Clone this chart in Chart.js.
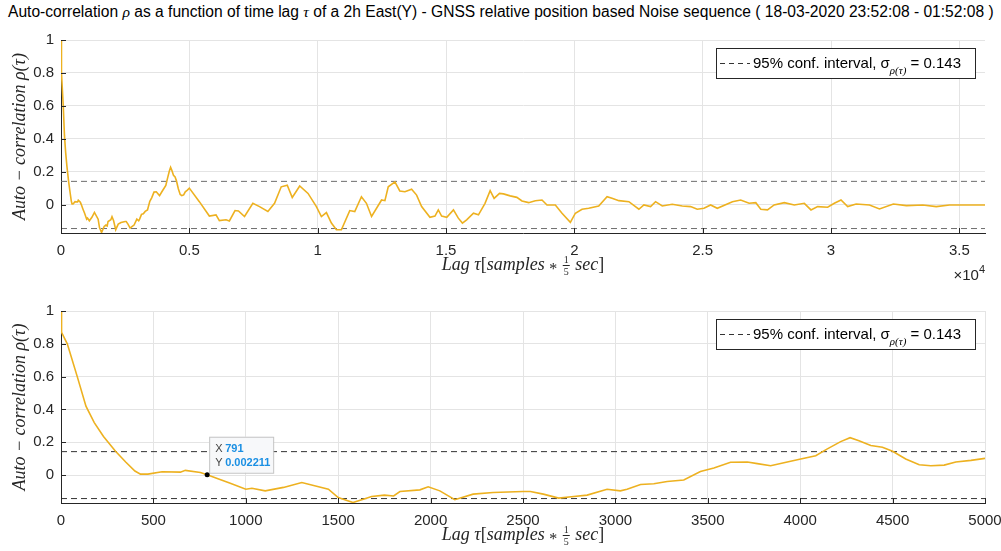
<!DOCTYPE html>
<html>
<head>
<meta charset="utf-8">
<script src="https://cdn.jsdelivr.net/npm/chart.js@4.4.1/dist/chart.umd.min.js"></script>
<style>
  body { margin: 0; background: #fff; width: 1001px; height: 551px; overflow: hidden; position: relative; font-family: 'Liberation Sans', Arial, sans-serif; }
  #title { position: absolute; left: 8px; top: 3px; font-size: 15.6px; color: #000; white-space: nowrap; }
  #title i { font-family: 'Liberation Serif', serif; }
  .box { position: absolute; left: 0; width: 1001px; }
  #topBox { top: 25px; height: 265px; }
  #botBox { top: 290px; height: 261px; }
</style>
</head>
<body>
<div id="title">Auto-correlation <i>ρ</i> as a function of time lag <i>τ</i> of a 2h East(Y) - GNSS relative position based Noise sequence ( 18-03-2020 23:52:08 - 01:52:08 )</div>
<div class="box" id="topBox"><canvas id="topChart" width="1001" height="265"></canvas></div>
<div class="box" id="botBox"><canvas id="botChart" width="1001" height="261"></canvas></div>
<script>
// lags 0..5000 (samples)
const shortLag = [0, 3, 34, 88, 135, 180, 230, 295, 350, 400, 430, 470, 547, 646, 673, 754, 791, 853, 916, 1000, 1033, 1105, 1204, 1303, 1447, 1500, 1580, 1636, 1681, 1750, 1800, 1834, 1942, 1987, 2050, 2131, 2230, 2338, 2500, 2540, 2610, 2693, 2775, 2847, 2955, 3027, 3063, 3136, 3208, 3280, 3370, 3460, 3533, 3623, 3714, 3768, 3840, 3930, 4003, 4084, 4147, 4219, 4270, 4318, 4382, 4445, 4500, 4571, 4644, 4707, 4779, 4842, 4924, 5000];
const shortAcf = [1.0, 0.87, 0.8, 0.6, 0.42, 0.32, 0.235, 0.145, 0.08, 0.025, 0.006, 0.006, 0.02, 0.018, 0.029, 0.016, 0.0022, -0.024, -0.049, -0.086, -0.08, -0.096, -0.075, -0.045, -0.086, -0.137, -0.167, -0.147, -0.13, -0.122, -0.127, -0.1, -0.09, -0.071, -0.096, -0.15, -0.116, -0.106, -0.1, -0.1, -0.116, -0.14, -0.13, -0.122, -0.086, -0.096, -0.086, -0.057, -0.053, -0.039, -0.03, 0.022, 0.043, 0.078, 0.08, 0.07, 0.057, 0.08, 0.098, 0.118, 0.16, 0.204, 0.228, 0.21, 0.18, 0.17, 0.145, 0.098, 0.063, 0.057, 0.061, 0.08, 0.09, 0.102];

// lags beyond 5000
const longLag = [5390, 5780, 6040, 6170, 6430, 6560, 6780, 6915, 7150, 7475, 7735, 8060, 8320, 8580, 8815, 9010, 9300, 9625, 9950, 10145, 10340, 10535, 10730, 10925, 11250, 11445, 11705, 11900, 12100, 12490, 12620, 12750, 13010, 13200, 13400, 13660, 13855, 14050, 14375, 14570, 14700, 14830, 15030, 15290, 15480, 15640, 15805, 16070, 16265, 16520, 16720, 16875, 17085, 17240, 17500, 17760, 17960, 18220, 18480, 18740, 18935, 19260, 19520, 19845, 20040, 20300, 20560, 20950, 21275, 21470, 21735, 22125, 22515, 22710, 22970, 23165, 23425, 23815, 24205, 24530, 24790, 25050, 25310, 25570, 26160, 26480, 26810, 27070, 27265, 27525, 27785, 28180, 28570, 28960, 29220, 29480, 29870, 30130, 30390, 30650, 30980, 31500, 31890, 32430, 32940, 33580, 34100, 34620, 35140, 36000];
const longAcf = [0.02, -0.067, -0.06, -0.095, -0.09, -0.097, -0.034, -0.036, -0.07, 0.01, -0.01, -0.04, 0.01, 0.11, 0.12, 0.045, 0.115, 0.07, -0.01, -0.07, -0.046, -0.11, -0.15, -0.15, -0.034, -0.04, 0.05, 0.01, -0.07, 0.03, 0.026, 0.11, 0.14, 0.085, 0.08, 0.095, 0.06, -0.01, -0.075, -0.067, -0.03, -0.067, -0.075, -0.03, -0.08, -0.11, -0.09, -0.05, -0.06, 0.01, 0.087, 0.04, 0.07, 0.067, 0.055, 0.046, 0.024, 0.014, 0.026, 0.03, 0, 0, -0.05, -0.105, -0.05, -0.026, -0.02, -0.006, 0.05, 0.04, 0.026, 0.02, -0.026, 0, -0.01, 0.02, -0.006, 0.004, -0.006, -0.01, -0.026, -0.02, 0, -0.02, 0.02, 0.03, 0.01, 0.014, -0.026, -0.03, 0, 0.014, 0, 0.01, -0.03, -0.01, -0.014, 0.01, 0.03, -0.01, 0.006, 0, -0.024, 0.006, -0.004, 0, -0.01, 0, 0, 0];

const confLevel = 0.143;
const yTicks = [0, 0.2, 0.4, 0.6, 0.8, 1];
const xTicksTop = [0, 5000, 10000, 15000, 20000, 25000, 30000, 35000];
const xTickLabelsTop = ['0', '0.5', '1', '1.5', '2', '2.5', '3', '3.5'];
const xTicksBot = [0, 500, 1000, 1500, 2000, 2500, 3000, 3500, 4000, 4500, 5000];
const tipX = 791;
const tipY = 0.002211;

const yellow = '#EDB120';
const axisCol = '#262626';
const gridCol = '#e4e4e4';

// all the MATLAB-ish decorations chart.js can't do by itself
const extras = {
  id: 'extras',
  afterDraw(chart, args, opts) {
    const ctx = chart.ctx;
    const a = chart.chartArea;
    const xs = chart.scales.x, ys = chart.scales.y;
    ctx.save();

    // inward tick marks
    ctx.strokeStyle = axisCol;
    ctx.lineWidth = 1;
    ctx.beginPath();
    xs.ticks.forEach(t => {
      const px = Math.round(xs.getPixelForValue(t.value)) + 0.5;
      ctx.moveTo(px, a.bottom); ctx.lineTo(px, a.bottom - 5);
    });
    ys.ticks.forEach(t => {
      const py = Math.round(ys.getPixelForValue(t.value)) + 0.5;
      ctx.moveTo(a.left, py); ctx.lineTo(a.left + 5, py);
    });
    ctx.stroke();

    // legend box
    const bw = 259, bh = 30;
    const bx = a.right - 10 - bw, by = a.top + opts.legendTop;
    ctx.fillStyle = '#fff';
    ctx.fillRect(bx, by, bw, bh);
    ctx.strokeStyle = axisCol;
    ctx.strokeRect(bx + 0.5, by + 0.5, bw, bh);
    const my = by + bh / 2;
    ctx.setLineDash([5, 4]);
    ctx.strokeStyle = '#333';
    ctx.beginPath();
    ctx.moveTo(bx + 4, my + 0.5); ctx.lineTo(bx + 34, my + 0.5);
    ctx.stroke();
    ctx.setLineDash([]);
    ctx.fillStyle = '#000';
    ctx.textBaseline = 'alphabetic';
    ctx.textAlign = 'left';
    let tx = bx + 37;
    ctx.font = '15px "Liberation Sans", Arial';
    let s = '95% conf. interval, σ';
    ctx.fillText(s, tx, my + 5);
    tx += ctx.measureText(s).width;
    ctx.font = 'italic 11px "Liberation Serif", serif';
    s = 'ρ(τ)';
    ctx.fillText(s, tx, my + 11);
    tx += ctx.measureText(s).width;
    ctx.font = '15px "Liberation Sans", Arial';
    ctx.fillText(' = ' + confLevel, tx, my + 5);

    // x axis label with the 1/5 fraction
    const it = 'italic 18px "Liberation Serif", serif';
    const up = '18px "Liberation Serif", serif';
    const parts = [[it, 'Lag τ'], [up, '['], [it, 'samples '], ['ast', '*'], [it, ' '], ['frac', ''], [it, ' sec'], [up, ']']];
    const fracW = 9;
    const astFont = '16px "Liberation Serif", serif';
    let total = 0;
    parts.forEach(p => {
      if (p[0] === 'frac') { total += fracW; return; }
      ctx.font = p[0] === 'ast' ? astFont : p[0];
      total += ctx.measureText(p[1]).width;
    });
    let lx = (a.left + a.right) / 2 - total / 2;
    const ly = a.bottom + 37;
    ctx.fillStyle = axisCol;
    parts.forEach(p => {
      if (p[0] === 'frac') {
        ctx.font = '10px "Liberation Serif", serif';
        ctx.textAlign = 'center';
        ctx.fillText('1', lx + fracW / 2, ly - 7);
        ctx.fillText('5', lx + fracW / 2, ly + 5);
        ctx.fillRect(lx + 1, ly - 5, fracW - 2, 1);
        ctx.textAlign = 'left';
        lx += fracW;
        return;
      }
      if (p[0] === 'ast') {
        ctx.font = astFont;
        ctx.fillText(p[1], lx, ly + 4);
        lx += ctx.measureText(p[1]).width;
        return;
      }
      ctx.font = p[0];
      ctx.fillText(p[1], lx, ly);
      lx += ctx.measureText(p[1]).width;
    });

    // x10^4 exponent
    if (opts.exponent) {
      ctx.font = '11px "Liberation Sans", Arial';
      const ew = ctx.measureText('4').width;
      ctx.fillText('4', a.right - ew, a.bottom + 40);
      ctx.font = '15px "Liberation Sans", Arial';
      const bw2 = ctx.measureText('×10').width;
      ctx.fillText('×10', a.right - ew - bw2, a.bottom + 47);
    }

    // data tip
    if (opts.tip) {
      const px = xs.getPixelForValue(tipX), py = ys.getPixelForValue(tipY);
      const tb = { x: px + 2, y: py - 38, w: 64, h: 36 };
      ctx.fillStyle = '#f7f8fa';
      ctx.fillRect(tb.x, tb.y, tb.w, tb.h);
      ctx.strokeStyle = '#c4c4c4';
      ctx.strokeRect(tb.x + 0.5, tb.y + 0.5, tb.w, tb.h);
      ctx.fillStyle = '#000';
      ctx.beginPath();
      ctx.arc(px, py, 2.5, 0, Math.PI * 2);
      ctx.fill();
      ctx.font = '11px "Liberation Sans", Arial';
      ctx.fillStyle = '#444';
      ctx.fillText('X', tb.x + 6, tb.y + 15);
      ctx.fillText('Y', tb.x + 6, tb.y + 29);
      ctx.font = 'bold 11px "Liberation Sans", Arial';
      ctx.fillStyle = '#1a8fe3';
      ctx.fillText(String(tipX), tb.x + 16, tb.y + 15);
      ctx.fillText(String(tipY), tb.x + 16, tb.y + 29);
    }
    ctx.restore();
  }
};

function makeChart(id, lag, acf, xMax, xTicks, xLabels, cfg) {
  const series = lag.map((x, i) => ({ x: x, y: acf[i] }));
  const conf = v => [{ x: 0, y: v }, { x: xMax, y: v }];
  return new Chart(document.getElementById(id), {
    type: 'line',
    data: {
      datasets: [
        { data: series, borderColor: yellow, borderWidth: 1.6, pointRadius: 0, tension: 0 },
        { data: conf(confLevel), borderColor: cfg.dashCol, borderWidth: 1, borderDash: [6, 4], pointRadius: 0 },
        { data: conf(-confLevel), borderColor: cfg.dashCol, borderWidth: 1, borderDash: [6, 4], pointRadius: 0 }
      ]
    },
    options: {
      responsive: false,
      animation: false,
      devicePixelRatio: 1,
      layout: { padding: { top: cfg.padTop, right: 16, left: 0, bottom: 0 } },
      plugins: {
        legend: { display: false },
        tooltip: { enabled: false },
        extras: cfg.extras
      },
      scales: {
        x: {
          type: 'linear', min: 0, max: xMax,
          afterBuildTicks: s => { s.ticks = xTicks.map(v => ({ value: v })); },
          afterFit: s => { s.height = cfg.xHeight; s.paddingLeft = 0; s.paddingRight = 0; },
          ticks: {
            padding: 9, color: axisCol, maxRotation: 0, autoSkip: false,
            font: { family: '"Liberation Sans", Arial', size: 15 },
            callback: (v, i) => xLabels[i]
          },
          grid: { color: gridCol, drawTicks: false },
          border: { color: axisCol, width: 1 }
        },
        y: {
          min: -0.17, max: 1,
          afterBuildTicks: s => { s.ticks = yTicks.map(v => ({ value: v })); },
          afterFit: s => { s.width = 61; s.paddingTop = 0; s.paddingBottom = 0; },
          ticks: {
            padding: 7, color: axisCol,
            font: { family: '"Liberation Sans", Arial', size: 15 },
            callback: v => String(Math.round(v * 10) / 10)
          },
          grid: { color: gridCol, drawTicks: false },
          border: { color: axisCol, width: 1 },
          title: {
            display: true, text: 'Auto − correlation ρ(τ)', color: axisCol,
            font: { family: '"Liberation Serif", serif', style: 'italic', size: 18 },
            padding: { top: 9, bottom: 0 }
          }
        }
      }
    },
    plugins: [extras]
  });
}

makeChart('topChart', shortLag.concat(longLag), shortAcf.concat(longAcf), 36000, xTicksTop, xTickLabelsTop,
  { padTop: 15, xHeight: 57, dashCol: '#6e6e6e', extras: { legendTop: 8, exponent: true, tip: false } });
makeChart('botChart', shortLag, shortAcf, 5000, xTicksBot, xTicksBot.map(String),
  { padTop: 21, xHeight: 48, dashCol: '#333', extras: { legendTop: 8, exponent: false, tip: true } });
</script>
</body>
</html>
